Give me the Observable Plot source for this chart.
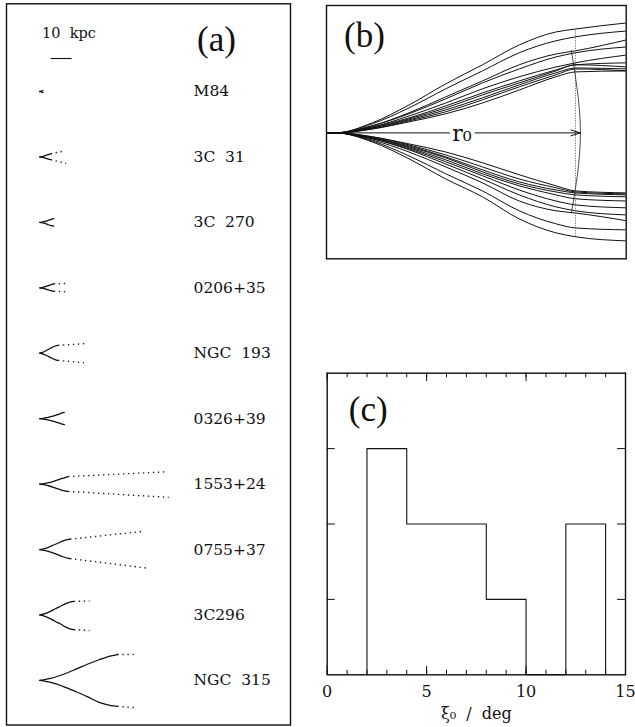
<!DOCTYPE html>
<html>
<head>
<meta charset="utf-8">
<script src="https://cdn.jsdelivr.net/npm/d3@7"></script>
<script src="https://cdn.jsdelivr.net/npm/@observablehq/plot@0.6"></script>
<style>
  body { margin: 0; background: #fff; }
  #fig { position: relative; width: 635px; height: 727px; overflow: hidden; background: #fff; }
  #fig > svg { position: absolute; }
</style>
</head>
<body>
<div id="fig"></div>
<script>
// ---- Sources (panel a), top to bottom ----
const sources = ["M84", "3C 31", "3C 270", "0206+35", "NGC 193", "0326+39", "1553+24", "0755+37", "3C296", "NGC 315"];
// flaring-region length r0 for each source (kpc)
const r0Kpc = [1.5, 5.3, 6.8, 6.8, 8.8, 11.9, 13.7, 14.7, 16.5, 37.7];

// jet boundary profiles, distance and half-width both in percent of r0
const profileX = [-4, 0, 15, 30, 45, 60, 75, 90, 98, 119];
const upperWidth = [
  [0, 0, 2.4, 6.9, 12.2, 18.0, 22.9, 26.9, 28.6, 31.8],
  [0, 0, 2.4, 6.1, 11.0, 16.3, 21.2, 25.7, 27.8, 28.6],
  [0, 0, 2.0, 5.3, 9.4, 14.3, 19.6, 24.5, 26.5, 26.1],
  [0, 0, 2.0, 5.7, 10.2, 15.5, 20.4, 25.3, 27.8, 26.9],
  [0, 0, 4.1, 11.4, 20.0, 27.8, 35.9, 41.2, 42.4, 44.9],
  [0, 0, 1.6, 4.5, 7.8, 12.2, 17.5, 22.9, 24.9, 25.3],
  [0, 0, 1.6, 4.9, 8.6, 13.5, 18.8, 23.7, 26.1, 25.3],
  [0, 0, 2.9, 8.2, 14.7, 21.2, 27.8, 32.2, 33.5, 38.0],
  [0, 0, 3.7, 10.2, 18.0, 25.3, 32.7, 37.6, 39.2, 41.6],
  [0, 0, 2.9, 7.8, 13.9, 20.4, 26.1, 31.0, 32.7, 35.1]
];
const lowerWidth = [
  [0, 0, 2.4, 6.9, 12.7, 18.8, 25.3, 30.2, 31.8, 33.5],
  [0, 0, 1.6, 4.9, 9.0, 13.9, 18.8, 22.4, 24.1, 24.9],
  [0, 0, 2.0, 6.1, 11.0, 16.7, 21.6, 25.3, 26.9, 27.8],
  [0, 0, 2.0, 5.3, 9.8, 15.1, 20.0, 23.3, 24.5, 25.3],
  [0, 0, 3.3, 9.4, 16.7, 23.7, 31.8, 37.1, 38.8, 39.6],
  [0, 0, 1.6, 4.5, 7.8, 12.2, 17.1, 21.6, 23.7, 24.5],
  [0, 0, 2.0, 5.7, 10.2, 15.9, 20.8, 24.1, 25.3, 26.1],
  [0, 0, 2.4, 6.5, 11.8, 17.5, 23.3, 27.8, 29.4, 30.6],
  [0, 0, 3.7, 10.6, 18.8, 26.1, 35.1, 40.8, 42.4, 44.1],
  [0, 0, 2.9, 7.8, 13.9, 20.4, 27.8, 31.8, 32.7, 35.9]
];
// outer ends of the faint (dotted) jet continuation: [distance, half-width] in kpc
const tailTop = [null, [11.9, 2.9], null, [13.5, 2.1], [21.8, 4.6], null, [60.7, 5.9], [49.5, 8.7], [23.7, 6.7], [45.2, 12.4]];
const tailBottom = [null, [12.6, 3.1], null, [13.5, 1.9], [21.0, 4.5], null, [61.4, 6.3], [50.8, 8.8], [23.7, 7.4], [45.7, 13.0]];
const scaleBarKpc = 10;

// ---- panel (b): locus of the end of the flaring region (percent of r0) ----
const r0Locus = [[96.3, 33.6], [98.8, 17], [100, 0], [98.8, -17], [96.3, -32.8]];

// ---- panel (c): histogram of xi_0 ----
const binEdges = [2, 4, 6, 8, 10, 12, 14];
const binCounts = [3, 2, 2, 1, 0, 2];
const xMinorTicks = [0, 1, 2, 3, 4, 5, 6, 7, 8, 9, 10, 11, 12, 13, 14, 15];
const xMajorTicks = [0, 5, 10, 15];
const yMajorTicks = [1, 2, 3];

const fig = document.getElementById("fig");
function place(svg, left, top) {
  svg.style.left = left + "px";
  svg.style.top = top + "px";
  fig.appendChild(svg);
}
const serif = "'DejaVu Serif', 'Liberation Serif', serif";
const roman = "'Liberation Serif', 'DejaVu Serif', serif";
// word gaps in the labels are set wide
const wide = (s) => s.replace(/ /g, "\u00a0\u00a0");

// ================= panel (a) =================
{
  const W = 300, H = 727, ml = 6, mr = 10, mt = 3.3, mb = 2.5;
  const pxPerKpc = 2.1;
  const xMin = -(39.3 - ml) / pxPerKpc;
  const xMax = xMin + (W - ml - mr) / pxPerKpc;
  const yMax = (H - mt - mb) / pxPerKpc;
  const rowTop = 41.76, rowStep = 31.16;
  const rowY = (i) => rowTop + i * rowStep;

  const solid = [], dotted = [];
  sources.forEach((name, i) => {
    const yc = rowY(i);
    const r0 = r0Kpc[i];
    [[-1, upperWidth[i], tailTop[i], "u"], [1, lowerWidth[i], tailBottom[i], "l"]].forEach(([side, w, tail, tag]) => {
      const pts = [];
      profileX.forEach((p, k) => {
        if (p >= 0 && p <= 98) pts.push({id: name + tag, x: p / 100 * r0, y: yc + side * w[k] / 100 * r0});
      });
      solid.push(...pts);
      if (tail) {
        const e = pts[pts.length - 1];
        dotted.push({x1: e.x, y1: e.y, x2: tail[0], y2: yc + side * tail[1]});
      }
    });
  });

  const svg = Plot.plot({
    width: W, height: H,
    marginLeft: ml, marginRight: mr, marginTop: mt, marginBottom: mb,
    style: {fontFamily: serif, background: "transparent", overflow: "visible"},
    x: {domain: [xMin, xMax], axis: null},
    y: {domain: [0, yMax], reverse: true, axis: null},
    marks: [
      Plot.line(solid, {x: "x", y: "y", z: "id", curve: "monotone-x", stroke: "#111", strokeWidth: 1.3}),
      Plot.link(dotted, {x1: "x1", y1: "y1", x2: "x2", y2: "y2", stroke: "#222", strokeWidth: 1.4, strokeDasharray: "1.4 3.6"}),
      Plot.ruleY([26.05], {x1: 5.4, x2: 5.4 + scaleBarKpc, stroke: "#111", strokeWidth: 1.1}),
      Plot.text([wide(`${scaleBarKpc} kpc`)], {x: 1.1, y: 14.2, textAnchor: "start", fontSize: 14.5, fill: "#111"}),
      Plot.text(sources, {x: 73.2, y: (d, i) => rowY(i), text: (d) => wide(d), textAnchor: "start", fontSize: 15.5, fill: "#111"}),
      Plot.text(["(a)"], {frameAnchor: "top-left", dx: 210, dy: 36, lineAnchor: "middle", textAnchor: "middle", fontSize: 35, fontFamily: roman, fill: "#111"}),
      Plot.frame({stroke: "#111", strokeWidth: 1.4})
    ]
  });
  place(svg, 0, 0);
}

// ================= panel (b) =================
{
  const W = 315, H = 265;
  const curves = [];
  sources.forEach((name, i) => {
    profileX.forEach((p, k) => {
      curves.push({id: name + "u", x: p, y: upperWidth[i][k]});
      curves.push({id: name + "l", x: p, y: -lowerWidth[i][k]});
    });
  });
  const k98 = profileX.indexOf(98);
  const topR0 = d3.max(upperWidth, (w) => w[k98]);
  const botR0 = d3.max(lowerWidth, (w) => w[k98]);

  const svg = Plot.plot({
    width: W, height: H,
    marginLeft: 6, marginRight: 9.3, marginTop: 5, marginBottom: 6.7,
    style: {fontFamily: serif, background: "transparent", overflow: "visible"},
    x: {domain: [-3.7, 118.7], axis: null},
    y: {domain: [-51.4, 52], axis: null},
    marks: [
      Plot.line(curves, {x: "x", y: "y", z: "id", curve: "monotone-x", stroke: "#111", strokeWidth: 1, clip: true}),
      Plot.line(r0Locus, {x: (d) => d[0], y: (d) => d[1], curve: "natural", stroke: "#222", strokeWidth: 0.8}),
      Plot.ruleX([98], {y1: -botR0, y2: topR0, stroke: "#333", strokeWidth: 0.8, strokeDasharray: "1 1.5"}),
      Plot.arrow([{x1: 0, y1: 0, x2: 100, y2: 0}], {x1: "x1", y1: "y1", x2: "x2", y2: "y2", stroke: "#111", strokeWidth: 1, headLength: 15, headAngle: 34}),
      Plot.text(["r₀"], {x: 51.6, y: 0, dy: 1, fontSize: 22, fill: "#111", stroke: "white", strokeWidth: 8}),
      Plot.text(["(b)"], {frameAnchor: "top-left", dx: 38, dy: 30, lineAnchor: "middle", textAnchor: "middle", fontSize: 35, fontFamily: roman, fill: "#111"}),
      Plot.frame({stroke: "#111", strokeWidth: 1.4})
    ]
  });
  place(svg, 320, 0);
}

// ================= panel (c) =================
{
  const W = 335, H = 367, ml = 26.7, mr = 10, mt = 12.7, mb = 52.7;
  const fw = W - ml - mr, fh = H - mt - mb;
  const steps = [{x: binEdges[0], y: 0}];
  binCounts.forEach((c, i) => steps.push({x: binEdges[i], y: c}));
  steps.push({x: binEdges[binEdges.length - 1], y: 0});

  const svg = Plot.plot({
    width: W, height: H,
    marginLeft: ml, marginRight: mr, marginTop: mt, marginBottom: mb,
    style: {fontFamily: serif, background: "transparent", overflow: "visible"},
    x: {domain: [0, 15], axis: null},
    y: {domain: [0, 4], axis: null},
    marks: [
      Plot.line(steps, {x: "x", y: "y", curve: "step-after", stroke: "#111", strokeWidth: 1.1}),
      Plot.tickX(xMinorTicks, {x: (d) => d, insetTop: fh - 4.5, stroke: "#111"}),
      Plot.tickX(xMinorTicks, {x: (d) => d, insetBottom: fh - 4.5, stroke: "#111"}),
      Plot.tickX(xMajorTicks, {x: (d) => d, insetTop: fh - 8.5, stroke: "#111"}),
      Plot.tickX(xMajorTicks, {x: (d) => d, insetBottom: fh - 8.5, stroke: "#111"}),
      Plot.tickY(yMajorTicks, {y: (d) => d, insetRight: fw - 8, stroke: "#111"}),
      Plot.tickY(yMajorTicks, {y: (d) => d, insetLeft: fw - 8, stroke: "#111"}),
      Plot.text(xMajorTicks, {x: (d) => d, frameAnchor: "bottom", dy: 17, lineAnchor: "middle", text: (d) => String(d), fontSize: 16, fill: "#111"}),
      Plot.text([wide("ξ₀ / deg")], {frameAnchor: "bottom", dy: 39, lineAnchor: "middle", fontSize: 16, fill: "#111"}),
      Plot.text(["(c)"], {frameAnchor: "top-left", dx: 41, dy: 37, lineAnchor: "middle", textAnchor: "middle", fontSize: 35, fontFamily: roman, fill: "#111"}),
      Plot.frame({stroke: "#111", strokeWidth: 1.4})
    ]
  });
  place(svg, 300, 360);
}
</script>
</body>
</html>
